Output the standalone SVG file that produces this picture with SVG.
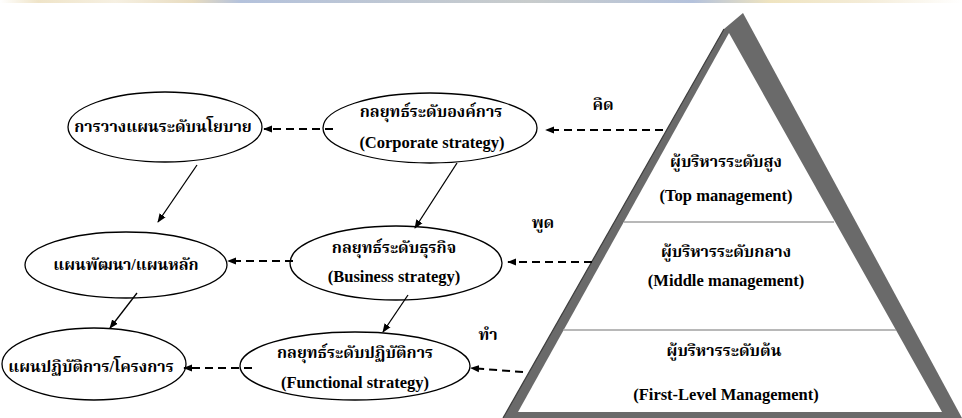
<svg xmlns="http://www.w3.org/2000/svg" width="962" height="418" viewBox="0 0 962 418">
<defs>
<linearGradient id="band" x1="0" y1="0" x2="1" y2="0">
<stop offset="0" stop-color="#ffffff"/>
<stop offset="0.04" stop-color="#efe4c8"/>
<stop offset="0.12" stop-color="#f6f0e2"/>
<stop offset="0.2" stop-color="#e8dcc0"/>
<stop offset="0.25" stop-color="#b4c2dc"/>
<stop offset="0.55" stop-color="#c8cccc"/>
<stop offset="0.72" stop-color="#b4c2dc"/>
<stop offset="0.8" stop-color="#efe4c0"/>
<stop offset="0.9" stop-color="#f4ecd8"/>
<stop offset="1" stop-color="#ffffff"/>
</linearGradient>
<marker id="ah2" viewBox="0 0 10 10" refX="9" refY="5" markerWidth="9" markerHeight="9" orient="auto" markerUnits="userSpaceOnUse">
<path d="M0,1 L10,5 L0,9 z" fill="#000"/>
</marker>
</defs>
<style>
.node ellipse{fill:#fff;stroke:#000;stroke-width:1.3}
.th{font-family:"Liberation Serif","Noto Serif Thai","Noto Sans Thai",serif;font-weight:bold;font-size:16px;fill:#000;text-anchor:middle}
.en{font-family:"Liberation Serif","Times New Roman",serif;font-weight:bold;font-size:16.5px;fill:#000;text-anchor:middle}
.dash{stroke:#000;stroke-width:2;stroke-dasharray:8 5;fill:none;marker-end:url(#ah2)}
.solid{stroke:#000;stroke-width:1.3;fill:none;marker-end:url(#ah2)}
.div{stroke:#a0a0a0;stroke-width:1.6}
</style>
<rect x="0" y="0" width="962" height="3" fill="url(#band)"/>

<g id="pyramid">
<polygon points="743,13 962,418 503,418 724,29" fill="#6a6a6a"/>
<line x1="724" y1="29" x2="503" y2="418" stroke="#3c3c3c" stroke-width="1.2"/>
<polygon points="729,33 942,412 518,412" fill="#fff"/>
<line class="div" x1="624" y1="222" x2="834" y2="222"/>
<line class="div" x1="563" y1="330" x2="896" y2="330"/>
<text class="th" x="726" y="167">ผู้บริหารระดับสูง</text>
<text class="en" x="726" y="201">(Top management)</text>
<text class="th" x="726" y="257">ผู้บริหารระดับกลาง</text>
<text class="en" x="726" y="286">(Middle management)</text>
<text class="th" x="724" y="356">ผู้บริหารระดับต้น</text>
<text class="en" x="726" y="400">(First-Level Management)</text>
</g>

<g id="n-corporate" class="node">
<ellipse cx="430" cy="128" rx="107" ry="35"/>
<text class="th" x="431" y="117">กลยุทธ์ระดับองค์การ</text>
<text class="en" x="432" y="148">(Corporate strategy)</text>
</g>
<g id="n-business" class="node">
<ellipse cx="396" cy="263" rx="106" ry="37"/>
<text class="th" x="394" y="253">กลยุทธ์ระดับธุรกิจ</text>
<text class="en" x="394" y="282">(Business strategy)</text>
</g>
<g id="n-functional" class="node">
<ellipse cx="355" cy="366" rx="115" ry="34"/>
<text class="th" x="355" y="358">กลยุทธ์ระดับปฏิบัติการ</text>
<text class="en" x="355" y="388">(Functional strategy)</text>
</g>
<g id="n-policy" class="node">
<ellipse cx="165" cy="127" rx="97" ry="35"/>
<text class="th" x="163" y="132">การวางแผนระดับนโยบาย</text>
</g>
<g id="n-devplan" class="node">
<ellipse cx="126" cy="265" rx="101" ry="33"/>
<text class="th" x="126" y="270">แผนพัฒนา/แผนหลัก</text>
</g>
<g id="n-action" class="node">
<ellipse cx="94" cy="364" rx="92" ry="36"/>
<text class="th" x="91" y="372">แผนปฏิบัติการ/โครงการ</text>
</g>

<g id="labels">
<text class="th" x="603" y="110">คิด</text>
<text class="th" x="543" y="228">พูด</text>
<text class="th" x="488" y="340">ทำ</text>
</g>

<g id="connectors">
<line class="dash" x1="663" y1="130" x2="546" y2="130"/>
<line class="dash" x1="592" y1="262" x2="508" y2="262"/>
<line class="dash" x1="523" y1="372" x2="471" y2="368"/>
<line class="dash" x1="333" y1="129" x2="264" y2="129"/>
<line class="dash" x1="293" y1="261" x2="228" y2="261"/>
<line class="dash" x1="252" y1="368" x2="184" y2="368"/>
<line class="solid" x1="197" y1="165" x2="158" y2="222"/>
<line class="solid" x1="457" y1="163" x2="415" y2="228"/>
<line class="solid" x1="137" y1="293" x2="110" y2="328"/>
<line class="solid" x1="408" y1="295" x2="383" y2="332"/>
</g>
</svg>
